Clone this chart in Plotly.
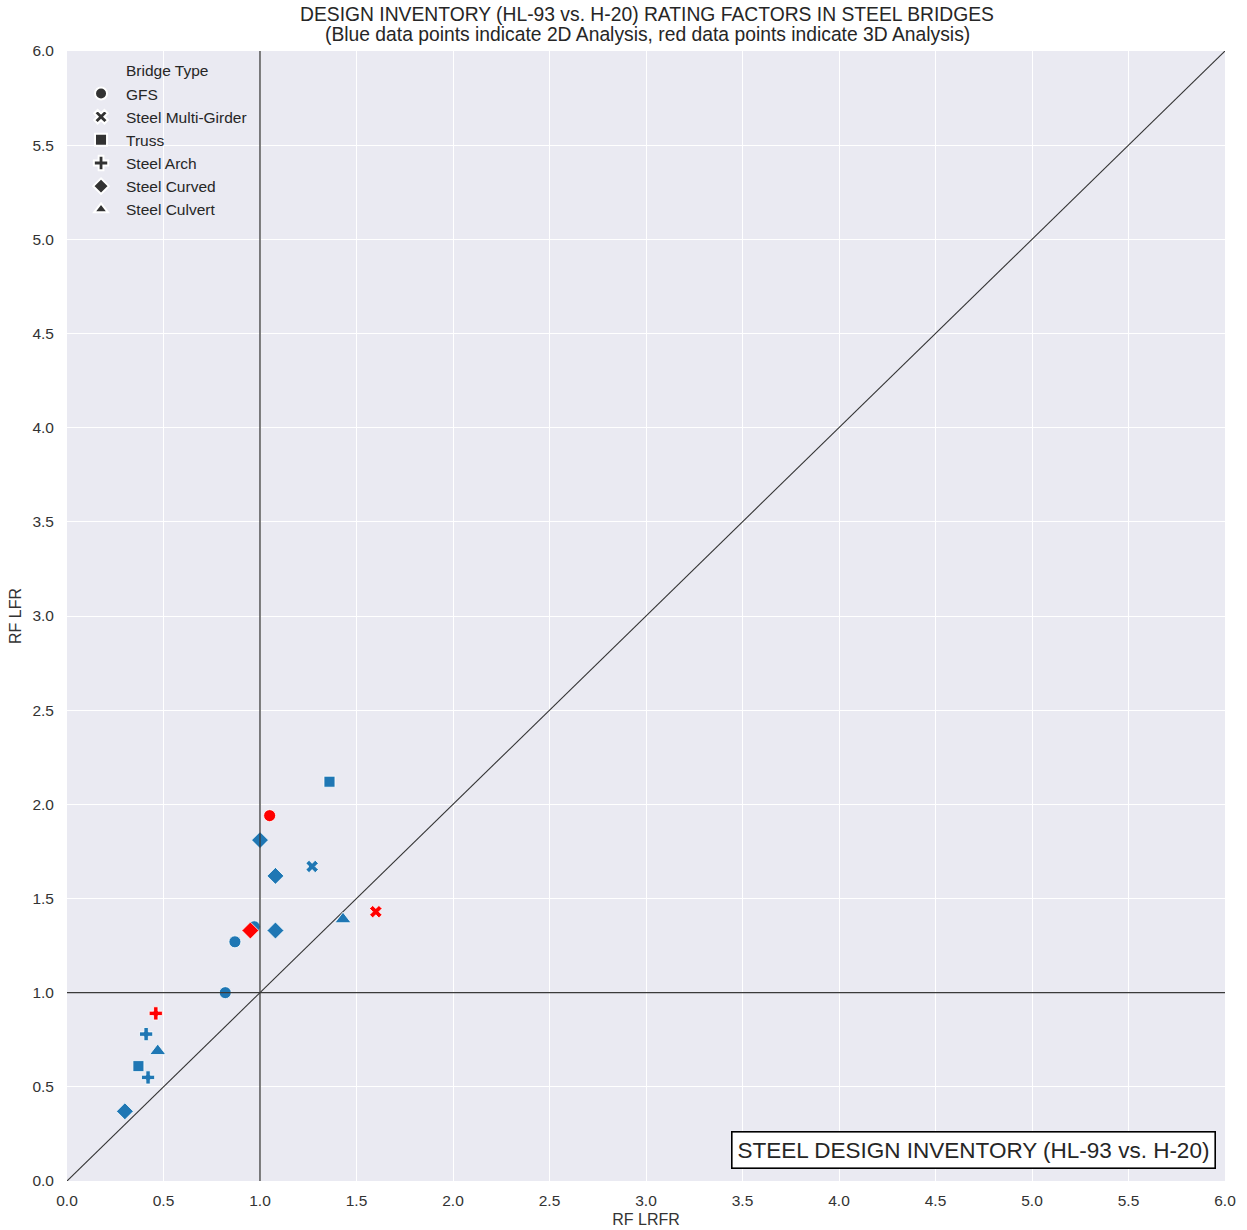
import plotly.graph_objects as go

bridge_types = ["GFS", "Steel Multi-Girder", "Truss", "Steel Arch", "Steel Curved", "Steel Culvert"]
symbols = {"GFS": "circle", "Steel Multi-Girder": "x", "Truss": "square",
           "Steel Arch": "cross", "Steel Curved": "diamond", "Steel Culvert": "triangle-up"}
sizes = {"GFS": 12, "Steel Multi-Girder": 11, "Truss": 11,
         "Steel Arch": 11, "Steel Curved": 13, "Steel Culvert": 14}

# 2D analysis (blue)
types_2d = ["Truss", "Steel Curved", "Steel Multi-Girder", "Steel Curved", "Steel Culvert", "GFS",
            "Steel Curved", "GFS", "GFS", "Steel Arch", "Steel Culvert", "Truss", "Steel Arch", "Steel Curved"]
lrfr_2d = [1.36, 1.00, 1.27, 1.08, 1.43, 0.97, 1.08, 0.87, 0.82, 0.41, 0.47, 0.37, 0.42, 0.30]
lfr_2d = [2.12, 1.81, 1.67, 1.62, 1.39, 1.35, 1.33, 1.27, 1.00, 0.78, 0.69, 0.61, 0.55, 0.37]

# 3D analysis (red)
types_3d = ["GFS", "Steel Multi-Girder", "Steel Curved", "Steel Arch"]
lrfr_3d = [1.05, 1.60, 0.95, 0.46]
lfr_3d = [1.94, 1.43, 1.33, 0.89]

x_ticks = [0.0, 0.5, 1.0, 1.5, 2.0, 2.5, 3.0, 3.5, 4.0, 4.5, 5.0, 5.5, 6.0]
y_ticks = x_ticks

FONT = "Arial, Liberation Sans, sans-serif"
fig = go.Figure()

# reference lines
fig.add_trace(go.Scatter(x=[0, 6], y=[0, 6], mode="lines", line=dict(color="#333333", width=1.1),
                         showlegend=False, hoverinfo="skip"))

def add_points(types, xs, ys, color):
    fig.add_trace(go.Scatter(
        x=xs, y=ys, mode="markers", showlegend=False,
        marker=dict(color=color, opacity=1, symbol=[symbols[t] for t in types],
                    size=[sizes[t] for t in types], line=dict(color="white", width=0.8))))

add_points(types_2d, lrfr_2d, lfr_2d, "#1f77b4")
add_points(types_3d, lrfr_3d, lfr_3d, "#ff0000")

fig.add_shape(type="line", x0=1, x1=1, y0=0, y1=6, xref="x", yref="y",
              line=dict(color="#3a3a3a", width=1.3), layer="above")
fig.add_shape(type="line", x0=0, x1=6, y0=1, y1=1, xref="x", yref="y",
              line=dict(color="#3a3a3a", width=1.3), layer="above")

# legend title as an entry without marker
fig.add_trace(go.Scatter(x=[None], y=[None], mode="markers", name="Bridge Type",
                         marker=dict(color="rgba(0,0,0,0)", size=1)))
for t in bridge_types:
    fig.add_trace(go.Scatter(x=[None], y=[None], mode="markers", name=t,
                             marker=dict(color="#333333", opacity=1, symbol=symbols[t], size=sizes[t] - 1,
                                         line=dict(color="white", width=0.5))))

fig.add_annotation(x=0.9922, y=0.0106, xref="paper", yref="paper", xanchor="right", yanchor="bottom",
                   text="STEEL DESIGN INVENTORY (HL-93 vs. H-20)", showarrow=False,
                   font=dict(family=FONT, size=22.5, color="#262626"),
                   bgcolor="white", bordercolor="#000000", borderwidth=1.6, borderpad=5)

fig.add_annotation(x=0.5009, y=1.0327, xref="paper", yref="paper", xanchor="center", yanchor="middle",
                   text="DESIGN INVENTORY (HL-93 vs. H-20) RATING FACTORS IN STEEL BRIDGES",
                   showarrow=False, font=dict(family=FONT, size=19.3, color="#262626"))
fig.add_annotation(x=0.5009, y=1.0142, xref="paper", yref="paper", xanchor="center", yanchor="middle",
                   text="(Blue data points indicate 2D Analysis, red data points indicate 3D Analysis)",
                   showarrow=False, font=dict(family=FONT, size=19.3, color="#262626"))

fig.update_layout(
    width=1247, height=1230,
    margin=dict(l=67, r=22, t=51, b=49),
    paper_bgcolor="white", plot_bgcolor="#EAEAF2",
    font=dict(family=FONT, size=15, color="#333333"),
    legend=dict(x=0.0078, y=0.9975, xanchor="left", yanchor="top", bgcolor="rgba(0,0,0,0)",
                font=dict(size=15.5, color="#262626"), tracegroupgap=0, itemsizing="constant",
                itemwidth=40),
    showlegend=True,
)
fig.update_xaxes(range=[0, 6], tickvals=x_ticks, ticktext=[f"{v:.1f}" for v in x_ticks],
                 showgrid=True, gridcolor="white", gridwidth=1.2, zeroline=False, showline=False,
                 ticks="", ticklabelstandoff=8, automargin=False,
                 title=dict(text="RF LRFR", font=dict(size=16, color="#333333"), standoff=6),
                 tickfont=dict(size=15.5, color="#333333"))
fig.update_yaxes(range=[0, 6], tickvals=y_ticks, ticktext=[f"{v:.1f}" for v in y_ticks],
                 showgrid=True, gridcolor="white", gridwidth=1.2, zeroline=False, showline=False,
                 ticks="", ticklabelstandoff=12, automargin=False,
                 title=dict(text="RF LFR", font=dict(size=16, color="#333333"), standoff=6),
                 tickfont=dict(size=15.5, color="#333333"))

fig.write_html("out.html")
